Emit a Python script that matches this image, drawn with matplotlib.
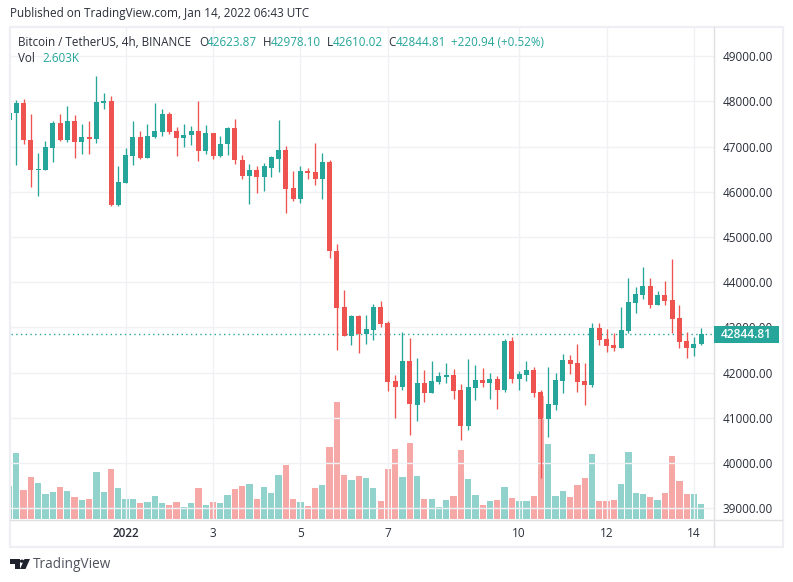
import matplotlib
matplotlib.use("Agg")
import matplotlib.pyplot as plt
from matplotlib.patches import Polygon, Rectangle
import numpy as np

plt.rcParams["font.family"] = ["Open Sans", "DejaVu Sans"]

# 4h candles, Binance BTC/USDT
opens = [47580, 47735, 47970, 47152, 46474, 46489, 46975, 47528, 47152, 47572, 47108, 47219,
         47174, 47970, 48015, 45715, 46202, 46798, 47219, 46754, 47219, 47329, 47727, 47356,
         47180, 47246, 47356, 46914, 47312, 46782, 47047, 47401, 46715, 46361, 46472, 46317,
         46538, 46737, 46936, 46074, 45831, 46450, 46428, 46273, 46649, 44698, 43460, 42818,
         43261, 42863, 42951, 43460, 43106, 41823, 41691, 42266, 41293, 41779, 41558, 41801,
         41912, 41956, 41624, 40828, 41669, 41846, 41779, 41868, 41624, 42708, 41863, 41951,
         42062, 41575, 40978, 41288, 41819, 42283, 42217, 41819, 41730, 42990, 42747, 42615,
         42548, 42924, 43543, 43720, 43919, 43499, 43720, 43610, 43211, 42703, 42548, 42623.87]
highs = [47800, 48037, 48059, 47727, 46865, 47130, 47572, 47727, 47904, 47705, 47506, 47572,
         48567, 48191, 48125, 46577, 46975, 47572, 47351, 47506, 47970, 47838, 47771, 47445,
         47511, 47467, 48020, 47489, 47312, 47224, 47445, 47600, 46804, 46605, 46561, 46627,
         46782, 47578, 47003, 46450, 46561, 46538, 47091, 46848, 46693, 44852, 43835, 43283,
         43283, 43283, 43526, 43592, 43150, 41956, 42907, 42774, 42332, 42067, 42266, 42022,
         42221, 42089, 41757, 42310, 42177, 42111, 42000, 41934, 42752, 42796, 42040, 42261,
         42128, 41620, 42128, 41995, 42416, 42393, 42637, 42217, 43101, 43101, 42968, 42880,
         43455, 44096, 43897, 44339, 44096, 43808, 44030, 44516, 43499, 42902, 42791, 42978.10]
lows = [47500, 46600, 47049, 46113, 45914, 46489, 46666, 47130, 47108, 46754, 46843, 46843,
        47086, 47838, 45693, 45693, 46202, 46600, 46732, 46754, 47197, 47241, 47285, 46782,
        46981, 47025, 46671, 46826, 46737, 46760, 46804, 46605, 46273, 45720, 45964, 46008,
        46317, 46428, 45521, 45787, 45742, 46273, 46140, 45831, 44526, 42509, 42818, 42619,
        42442, 42641, 42730, 43017, 41602, 41005, 41624, 40630, 40939, 41359, 41558, 41757,
        41779, 41425, 40519, 40740, 41403, 41691, 41425, 41204, 41580, 41779, 41620, 41819,
        41465, 39667, 40580, 41177, 41553, 41973, 41575, 41288, 41686, 42615, 42460, 42482,
        42548, 42880, 43322, 43632, 43433, 43499, 43499, 42880, 42548, 42327, 42371, 42610.02]
closes = [47742, 47970, 47138, 46474, 46511, 46998, 47528, 47152, 47572, 47108, 47219, 47174,
          47992, 48015, 45715, 46224, 46821, 47219, 46754, 47241, 47351, 47727, 47329, 47180,
          47246, 47356, 46914, 47312, 46782, 47069, 47401, 46693, 46361, 46472, 46317, 46561,
          46760, 46936, 46052, 45831, 46450, 46406, 46273, 46649, 44681, 43437, 42818, 43261,
          42863, 42973, 43460, 43084, 41801, 41691, 42266, 41315, 41779, 41558, 41823, 41934,
          41956, 41602, 40828, 41691, 41846, 41779, 41868, 41624, 42708, 41868, 41973, 42062,
          41553, 40978, 41310, 41841, 42283, 42195, 41797, 41730, 42990, 42725, 42592, 42548,
          42946, 43565, 43742, 43919, 43499, 43720, 43587, 43189, 42681, 42548, 42637, 42844.81]
volumes = [5780, 11444, 5029, 7283, 6242, 4335, 4682, 5549, 4855, 3815, 3295, 3468,
           8150, 4682, 8670, 5375, 3468, 3468, 2774, 2948, 3988, 2774, 2428, 2948,
           2081, 2774, 5375, 2428, 2948, 2774, 4162, 5202, 5722, 6069, 3468, 5549,
           4508, 7630, 9364, 3468, 2948, 2254, 5375, 5896, 12485, 20288, 7630, 6763,
           7456, 7109, 5375, 3121, 8670, 12138, 7283, 13178, 7456, 3468, 3468, 2081,
           3295, 3988, 11965, 6936, 4162, 2428, 3121, 3295, 5549, 3641, 3121, 3121,
           3988, 21328, 13005, 3988, 4855, 3815, 5896, 7109, 11271, 3121, 3121, 3295,
           6069, 11618, 4508, 4335, 3815, 3295, 4508, 10924, 6589, 4335, 4335, 2603]

price_ticks = list(range(39000, 50000, 1000))
date_bars = [16, 28, 40, 52, 70, 82, 94]
date_labels = ["2022", "3", "5", "7", "10", "12", "14"]
last_price = 42844.81

UP = "#26a69a"
DOWN = "#ef5350"
GRID = "#f0f1f4"
AXIS_LINE = "#dfe0e3"
BORDER = "#eeeef4"
TEXT = "#2a2e39"

W, H = 793, 582
PLOT_L, PLOT_R, PLOT_T, PLOT_B = 10.5, 713.5, 27, 519


def fx(x):
    return x / W


def fy(y):
    return 1 - y / H


fig = plt.figure(figsize=(W / 100, H / 100), dpi=100, facecolor="white")
ax = fig.add_axes([fx(PLOT_L), fy(PLOT_B), (PLOT_R - PLOT_L) / W, (PLOT_B - PLOT_T) / H])
vol_ax = ax.twinx()

o, h, l, c = map(np.array, (opens, highs, lows, closes))
x = np.arange(len(o))
colors = [UP if a >= b else DOWN for a, b in zip(c, o)]

# price scale
ax.set_xlim(0.204, 96.68)
ax.set_ylim(38763, 49646)
ax.set_yticks(price_ticks)
ax.set_xticks(date_bars)
ax.set_xticklabels(date_labels)
ax.grid(True, color=GRID, lw=1)
ax.set_axisbelow(True)
ax.yaxis.tick_right()
ax.tick_params(length=0, labelsize=8.5, labelcolor=TEXT)
ax.tick_params(axis="x", pad=6)
ax.tick_params(axis="y", pad=6.8)
ax.set_yticklabels([f"{p:.2f}" for p in price_ticks])
for lab in ax.get_xticklabels():
    if lab.get_text() == "2022":
        lab.set_fontweight("semibold")
for name, sp in ax.spines.items():
    sp.set_visible(False)

ax.axhline(last_price, color=UP, lw=1, ls=(0, (1, 2.4)), zorder=2)
ax.vlines(x, l, h, colors=colors, lw=0.95, zorder=4, snap=True)
ax.bar(x, np.abs(c - o), bottom=np.minimum(c, o), width=0.69, color=colors, zorder=4)

# volume pane sits below the candles
vol_ax.set_ylim(0, 85362)
vol_ax.set_yticks([])
vol_ax.bar(x, volumes, width=0.86, color=colors, alpha=0.5, zorder=3)
for sp in vol_ax.spines.values():
    sp.set_visible(False)
ax.set_zorder(vol_ax.get_zorder() + 1)
ax.patch.set_visible(False)

# frame and axis lines
fig.add_artist(Rectangle((fx(9.5), fy(547)), (783 - 9.5) / W, (547 - 26.5) / H, fill=False,
                         ec=BORDER, lw=1.6, transform=fig.transFigure))
fig.add_artist(plt.Line2D([fx(PLOT_R)] * 2, [fy(27), fy(546)], color=AXIS_LINE, lw=1))
fig.add_artist(plt.Line2D([fx(10), fx(782)], [fy(519.5)] * 2, color=AXIS_LINE, lw=1))

# last price tag
fig.add_artist(Rectangle((fx(713.5), fy(342.7)), 65 / W, 16.7 / H, fc=UP, ec="none",
                         transform=fig.transFigure, zorder=5))
fig.text(fx(746.5), fy(334.5), f"{last_price:.2f}", color="white", fontsize=8.6, fontweight="semibold",
         ha="center", va="center", zorder=6)

# header
fig.text(fx(10), fy(14), "Published on TradingView.com, Jan 14, 2022 06:43 UTC", fontsize=8.45,
         color=TEXT, va="center")
legend_y = 42
fig.text(fx(18), fy(legend_y), "Bitcoin / TetherUS, 4h, BINANCE", fontsize=8.4, color=TEXT, va="center")
for lab, lx, val, vx in [("O", 199, "42623.87", 207), ("H", 263, "42978.10", 271),
                         ("L", 327, "42610.02", 333), ("C", 388, "42844.81", 396)]:
    fig.text(fx(lx), fy(legend_y), lab, fontsize=8.4, color=TEXT, va="center")
    fig.text(fx(vx), fy(legend_y), val, fontsize=8.4, color=UP, va="center")
fig.text(fx(451), fy(legend_y), "+220.94 (+0.52%)", fontsize=8.4, color=UP, va="center")
fig.text(fx(18), fy(59), "Vol", fontsize=8.4, color=TEXT, va="center")
fig.text(fx(42), fy(59), "2.603K", fontsize=8.4, color=UP, va="center")

# TradingView logo
LOGO = "#1e222d"
for pts in ([(10, 559), (19.5, 559), (19.5, 569), (15, 569), (15, 563.5), (10, 563.5)],
            [(24.5, 559), (30, 559), (25.5, 569), (20, 569)]):
    fig.add_artist(Polygon([(fx(px), fy(py)) for px, py in pts], closed=True, fc=LOGO, ec="none",
                           transform=fig.transFigure))
fig.add_artist(plt.Circle((fx(22), fy(561.2)), 2.2 / W, fc=LOGO, ec="none", transform=fig.transFigure))
fig.text(fx(33), fy(564), "TradingView", fontsize=9.8, color="#50535e", va="center")

fig.savefig("out.png", dpi=100, facecolor="white")
